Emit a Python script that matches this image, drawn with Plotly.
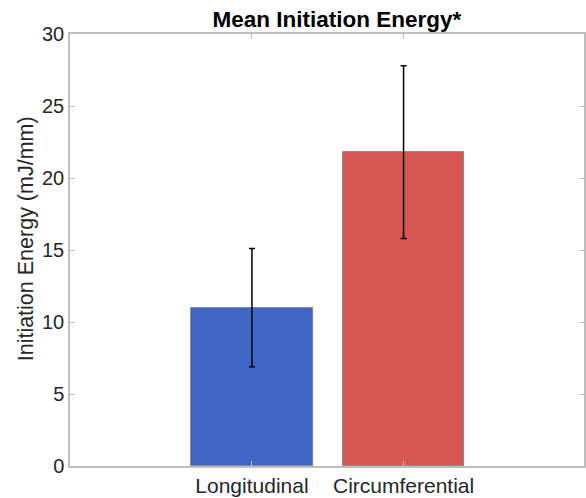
import plotly.graph_objects as go

# Mean initiation energy per specimen orientation
categories = ["Longitudinal", "Circumferential"]
positions = [1, 2]
mean_energy = [11.0, 21.8]
error_upper = [4.1, 6.0]
error_lower = [4.1, 6.0]
bar_colors = ["rgb(63,102,196)", "rgb(213,88,82)"]
y_ticks = [0, 5, 10, 15, 20, 25, 30]

axis_gray = "rgb(190,190,190)"
text_color = "rgb(38,38,38)"
font_family = "Liberation Sans, Arial, Helvetica, sans-serif"

fig = go.Figure()
fig.add_trace(
    go.Bar(
        x=positions,
        y=mean_energy,
        width=0.8,
        marker=dict(color=bar_colors, line=dict(color="rgb(120,120,120)", width=0.8)),
        error_y=dict(
            type="data",
            symmetric=False,
            array=error_upper,
            arrayminus=error_lower,
            color="black",
            thickness=1.5,
            width=3,
        ),
        showlegend=False,
    )
)

fig.update_layout(
    width=586,
    height=498,
    margin=dict(l=70, r=0, t=34, b=32),
    plot_bgcolor="white",
    paper_bgcolor="white",
    font=dict(family=font_family, size=20, color=text_color),
    title=dict(
        text="<b>Mean Initiation Energy*</b>",
        font=dict(family=font_family, size=22.5, color="black"),
        x=0.575,
        xanchor="center",
        y=0.946,
        yanchor="bottom",
    ),
    bargap=0,
)

fig.update_xaxes(
    range=[-0.2, 3.19],
    tickmode="array",
    tickvals=positions,
    ticktext=categories,
    ticks="inside",
    ticklen=5,
    tickcolor=axis_gray,
    showline=True,
    linecolor=axis_gray,
    linewidth=1.5,
    mirror="ticks",
    showgrid=False,
    zeroline=False,
    tickfont=dict(size=21, color=text_color),
)

fig.update_yaxes(
    range=[0, 30],
    tickmode="array",
    tickvals=y_ticks,
    ticks="inside",
    ticklen=5,
    tickcolor=axis_gray,
    showline=True,
    linecolor=axis_gray,
    linewidth=1.5,
    mirror="ticks",
    showgrid=False,
    zeroline=False,
    tickfont=dict(size=20, color=text_color),
)

# Y-axis label
fig.add_annotation(
    text="Initiation Energy (mJ/mm)",
    textangle=-90,
    xref="paper",
    yref="paper",
    x=-0.085,
    y=0.5255,
    xanchor="center",
    yanchor="middle",
    showarrow=False,
    font=dict(size=21.5, color=text_color),
)

fig.write_html("out.html")
